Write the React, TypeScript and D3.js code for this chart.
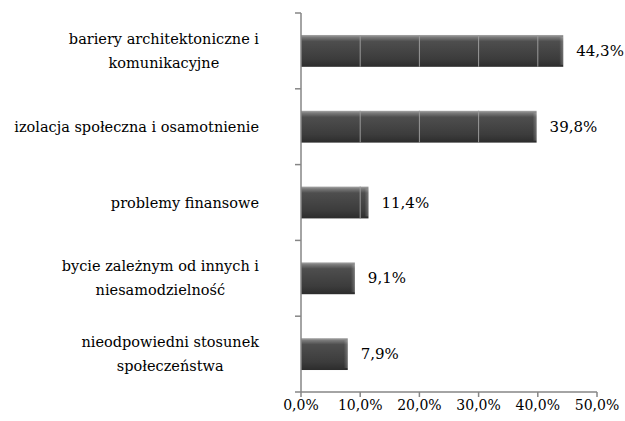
import React from 'react';
import * as d3 from 'd3';

const categories: string[][] = [
  ['bariery architektoniczne i', 'komunikacyjne'],
  ['izolacja społeczna i osamotnienie'],
  ['problemy finansowe'],
  ['bycie zależnym od innych i', 'niesamodzielność'],
  ['nieodpowiedni stosunek', 'społeczeństwa'],
];
const values: number[] = [44.3, 39.8, 11.4, 9.1, 7.9];
const xTicks: number[] = [0, 10, 20, 30, 40, 50];

const W = 625;
const H = 421;
const FONT = '"DejaVu Serif", serif';
const LABEL_SIZE = 14.5;

function measure(text: string, size: number): number {
  const c = document.createElement('canvas');
  const ctx = c.getContext('2d');
  if (!ctx) return text.length * size * 0.55;
  ctx.font = `${size}px ${FONT}`;
  return ctx.measureText(text).width;
}

export default function App() {
  const left = 301, right = 597, top = 13, bottom = 392;
  const x = d3.scaleLinear().domain([0, 50]).range([left, right]);
  const y = d3
    .scaleBand<number>()
    .domain(values.map((_, i) => i))
    .range([top, bottom])
    .paddingInner(0.58)
    .paddingOuter(0.29);
  const step = y.step();
  const fmt = (v: number) => v.toFixed(1).replace('.', ',') + '%';
  const labelRight = 259;
  const lineGap = 24;

  return (
    <svg width={W} height={H} style={{ position: 'absolute', left: 0, top: 0, background: '#fff' }}>
      <defs>
        <linearGradient id="barGrad" x1="0" y1="0" x2="0" y2="1">
          <stop offset="0%" stopColor="#a8a8a8" />
          <stop offset="7%" stopColor="#7a7a7a" />
          <stop offset="20%" stopColor="#4e4e4e" />
          <stop offset="75%" stopColor="#3c3c3c" />
          <stop offset="100%" stopColor="#2c2c2c" />
        </linearGradient>
        <linearGradient id="barEdge" x1="0" y1="0" x2="1" y2="0">
          <stop offset="0%" stopColor="#ffffff" stopOpacity="0" />
          <stop offset="100%" stopColor="#ffffff" stopOpacity="0.25" />
        </linearGradient>
        <clipPath id="barsClip">
          {values.map((v, i) => (
            <rect key={i} x={x(0)} y={y(i)!} width={x(v) - x(0)} height={y.bandwidth()} />
          ))}
        </clipPath>
      </defs>

      {/* bars */}
      {values.map((v, i) => (
        <g key={i}>
          <rect x={x(0)} y={y(i)!} width={x(v) - x(0)} height={y.bandwidth()} fill="url(#barGrad)" />
          <rect
            x={x(v) - 4}
            y={y(i)! + 2}
            width={4}
            height={y.bandwidth() - 4}
            fill="url(#barEdge)"
          />
        </g>
      ))}

      {/* gridlines visible over bars */}
      <g clipPath="url(#barsClip)">
        {xTicks.slice(1).map((t) => (
          <line key={t} x1={x(t)} x2={x(t)} y1={top} y2={bottom} stroke="#9a9a9a" strokeWidth={1} />
        ))}
      </g>

      {/* y axis */}
      <line x1={left} x2={left} y1={top} y2={bottom} stroke="#868686" strokeWidth={1.5} />
      {d3.range(values.length + 1).map((k) => (
        <line
          key={k}
          x1={left - 6}
          x2={left}
          y1={top + k * step}
          y2={top + k * step}
          stroke="#868686"
          strokeWidth={1.5}
        />
      ))}

      {/* x axis */}
      <line x1={left} x2={right} y1={bottom} y2={bottom} stroke="#868686" strokeWidth={1.5} />
      {xTicks.map((t) => (
        <g key={t}>
          <line x1={x(t)} x2={x(t)} y1={bottom} y2={bottom + 5} stroke="#868686" strokeWidth={1.5} />
          <text
            x={x(t)}
            y={bottom + 13}
            textAnchor="middle"
            dominantBaseline="central"
            fontFamily={FONT}
            fontSize={14}
            fill="#000"
          >
            {fmt(t)}
          </text>
        </g>
      ))}

      {/* value labels */}
      {values.map((v, i) => (
        <text
          key={i}
          x={x(v) + 13}
          y={y(i)! + y.bandwidth() / 2}
          dominantBaseline="central"
          fontFamily={FONT}
          fontSize={15}
          fill="#000"
        >
          {fmt(v)}
        </text>
      ))}

      {/* category labels */}
      {categories.map((lines, i) => {
        const maxW = Math.max(...lines.map((l) => measure(l, LABEL_SIZE)));
        const cx = labelRight - maxW / 2;
        const cy = y(i)! + y.bandwidth() / 2;
        const y0 = cy - ((lines.length - 1) * lineGap) / 2;
        return (
          <text
            key={i}
            textAnchor="middle"
            fontFamily={FONT}
            fontSize={LABEL_SIZE}
            fill="#000"
          >
            {lines.map((l, j) => (
              <tspan key={j} x={cx} y={y0 + j * lineGap} dominantBaseline="central">
                {l}
              </tspan>
            ))}
          </text>
        );
      })}
    </svg>
  );
}
